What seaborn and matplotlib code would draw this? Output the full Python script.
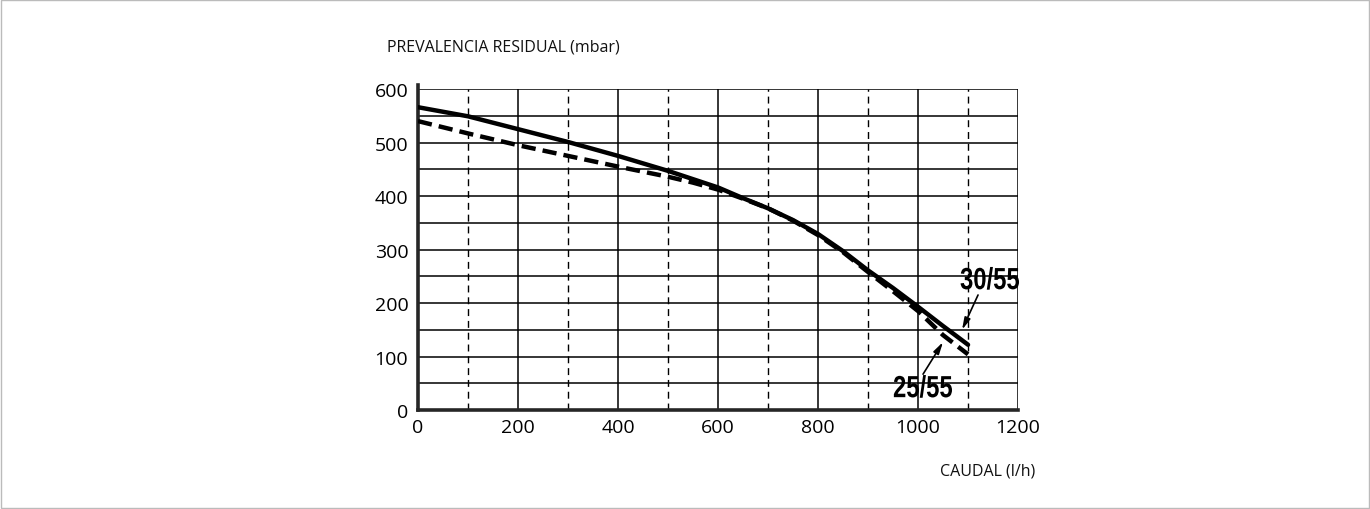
import pandas as pd
import numpy as np
import matplotlib
matplotlib.use("Agg")
import matplotlib.pyplot as plt
import seaborn as sns
from matplotlib.patches import Rectangle
from matplotlib.patheffects import AbstractPathEffect
from matplotlib.transforms import Affine2D

# caudal (l/h)
flow_3055 = [0, 100, 200, 300, 400, 500, 600, 650, 700, 750, 800, 850, 900, 950, 1000, 1050, 1100]
head_3055 = [566, 549, 525, 501, 475, 447, 416, 396, 377, 355, 329, 297, 261, 228, 193, 157, 122]

flow_2555 = [0, 100, 200, 300, 400, 500, 550, 600, 650, 700, 750, 800, 850, 900, 950, 1000, 1050, 1100]
head_2555 = [540, 517, 495, 475, 455, 436, 425, 412, 395, 377, 354, 327, 295, 258, 222, 185, 140, 104]

x_ticks = [0, 200, 400, 600, 800, 1000, 1200]
y_ticks = [0, 100, 200, 300, 400, 500, 600]

df = pd.concat([
    pd.DataFrame({"caudal": flow_3055, "prevalencia": head_3055, "modelo": "30/55"}),
    pd.DataFrame({"caudal": flow_2555, "prevalencia": head_2555, "modelo": "25/55"}),
])


class Squeeze(AbstractPathEffect):
    """Estrecha el texto en horizontal (letra condensada)."""

    def __init__(self, sx):
        super().__init__()
        self.sx = sx

    def draw_path(self, renderer, gc, tpath, affine, rgbFace=None):
        m = affine.get_matrix().copy()
        m[0, 0] *= self.sx
        m[0, 1] *= self.sx
        renderer.draw_path(gc, tpath, Affine2D(m), rgbFace)


sns.set_style("white")
plt.rcParams["font.family"] = ["Open Sans", "DejaVu Sans"]

fig = plt.figure(figsize=(13.7, 5.1), dpi=100)
ax = fig.add_axes([0.3051, 0.1941, 0.438, 0.6294])

# rejilla: horizontales cada 50, verticales continuas cada 200 y discontinuas en los 100 impares
for yv in range(50, 601, 50):
    ax.axhline(yv, color="black", lw=1.1, zorder=1)
for xv in range(100, 1201, 100):
    if xv % 200 == 0:
        ax.axvline(xv, color="black", lw=1.1, zorder=1)
    else:
        ax.axvline(xv, color="black", lw=1.0, ls=(0, (5, 3.5)), zorder=1)

sns.lineplot(data=df, x="caudal", y="prevalencia", style="modelo",
             dashes={"30/55": "", "25/55": (3.2, 1.6)}, color="black",
             linewidth=3.2, legend=False, ax=ax, zorder=3)

ax.set_xlim(0, 1200)
ax.set_ylim(0, 600)
ax.set_xticks(x_ticks)
ax.set_yticks(y_ticks)
ax.set_yticks(range(50, 600, 100), minor=True)
ax.tick_params(axis="both", labelsize=14, length=5, width=1.5, colors="black", direction="out")
ax.tick_params(axis="y", which="minor", length=5, width=1.2, direction="out")
ax.tick_params(axis="x", length=0, pad=6)
ax.tick_params(axis="y", pad=2)
ax.set_xlabel("")
ax.set_ylabel("")

for side in ["top", "right"]:
    ax.spines[side].set_visible(False)
ax.spines["left"].set_linewidth(2.6)
ax.spines["bottom"].set_linewidth(2.6)
ax.spines["left"].set_bounds(0, 607)

fig.text(387 / 1370, 1 - 48 / 510, "PREVALENCIA RESIDUAL (mbar)", fontsize=11.5,
         ha="left", va="center", color="#111111")
fig.text(1035 / 1370, 1 - 471 / 510, "CAUDAL (l/h)", fontsize=11.5,
         ha="right", va="center", color="#111111")

anno_font = dict(family=["Liberation Sans", "DejaVu Sans"], fontweight="bold",
                 fontsize=22, ha="left", va="baseline", color="black",
                 path_effects=[Squeeze(0.78)])
ax.text(1084, 226, "30/55", **anno_font)
ax.text(950, 24, "25/55", **anno_font)

arrow = dict(arrowstyle="-|>,head_length=0.7,head_width=0.18", color="black", lw=1.2,
             shrinkA=0, shrinkB=0)
ax.annotate("", xy=(1088, 150), xytext=(1120, 215), arrowprops=arrow)
ax.annotate("", xy=(1050, 127), xytext=(1010, 67), arrowprops=arrow)

fig.patches.append(Rectangle((0.001, 0.002), 0.998, 0.996, transform=fig.transFigure,
                             fill=False, edgecolor="#bbbbbb", lw=1.0))

fig.savefig("out.png", dpi=100)
